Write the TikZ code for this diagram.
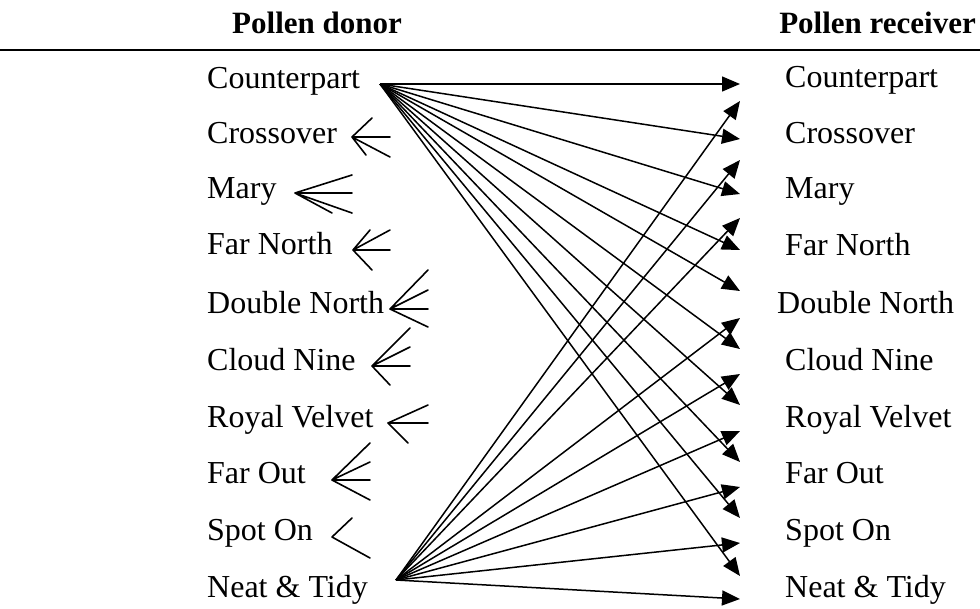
\documentclass[tikz,border=0pt]{standalone}
\usepackage{fontspec}
\setmainfont{Liberation Serif}
\usetikzlibrary{arrows.meta}
\begin{document}
\begin{tikzpicture}[x=1pt,y=-1pt,
  lbl/.style={anchor=base west,inner sep=0pt,font=\fontsize{32}{36}\selectfont},
  hdr/.style={inner sep=0pt,font=\fontsize{31}{36}\selectfont\bfseries},
  link/.style={line width=1.5pt,-{Triangle[length=18pt,width=15pt]}},
  fan/.style={line width=1.6pt,line cap=round}]
\useasboundingbox (0,0) rectangle (980,608);
% header
\node[hdr,anchor=base west] (hd) at (232,33) {Pollen donor};
\node[hdr,anchor=base east] (hr) at (976,33) {Pollen receiver};
\coordinate (rl) at (0,50);
\coordinate (rr) at (980,50);
\draw[line width=2pt] (rl) -- (rr);
% donors
\node[lbl] (d1) at (207,88) {Counterpart};
\node[lbl] (d2) at (207,143) {Crossover};
\node[lbl] (d3) at (207,198) {Mary};
\node[lbl] (d4) at (207,254) {Far North};
\node[lbl] (d5) at (207,313) {Double North};
\node[lbl] (d6) at (207,370) {Cloud Nine};
\node[lbl] (d7) at (207,427) {Royal Velvet};
\node[lbl] (d8) at (207,483) {Far Out};
\node[lbl] (d9) at (207,540) {Spot On};
\node[lbl] (d10) at (207,597) {Neat \& Tidy};
% receivers
\node[lbl] (r1) at (785,87) {Counterpart};
\node[lbl] (r2) at (785,143) {Crossover};
\node[lbl] (r3) at (785,198) {Mary};
\node[lbl] (r4) at (785,255) {Far North};
\node[lbl] (r5) at (777,313) {Double North};
\node[lbl] (r6) at (785,370) {Cloud Nine};
\node[lbl] (r7) at (785,427) {Royal Velvet};
\node[lbl] (r8) at (785,483) {Far Out};
\node[lbl] (r9) at (785,540) {Spot On};
\node[lbl] (r10) at (785,597) {Neat \& Tidy};
% sources
\coordinate (sa) at (380,84);
\coordinate (sb) at (396,580);
% tips from Counterpart
\foreach \i/\y in {1/84,2/139,3/194,4/250,5/291,6/349,7/405,8/462,9/518,10/576}
  \coordinate (ta\i) at (740,\y);
% tips from Neat & Tidy
\foreach \i/\y in {1/101,2/160,3/218,5/318,6/374,7/431,8/487,9/543,10/599}
  \coordinate (tb\i) at (740,\y);
\foreach \i in {1,...,10} \draw[link] (sa) -- (ta\i);
\foreach \i in {1,2,3,5,6,7,8,9,10} \draw[link] (sb) -- (tb\i);
% fans
\coordinate (v2) at (352,137);
\draw[fan] (v2) -- (372,118) (v2) -- (390,137) (v2) -- (366,155) (v2) -- (390,157);
\coordinate (v3) at (295,193);
\draw[fan] (v3) -- (352,175) (v3) -- (352,193) (v3) -- (332,213) (v3) -- (352,213);
\coordinate (v4) at (353,250);
\draw[fan] (v4) -- (370,230) (v4) -- (390,230) (v4) -- (390,250) (v4) -- (372,270);
\coordinate (v5) at (390,309);
\draw[fan] (v5) -- (428,270) (v5) -- (428,290) (v5) -- (428,309) (v5) -- (428,327);
\coordinate (v6) at (372,366);
\draw[fan] (v6) -- (410,328) (v6) -- (410,347) (v6) -- (410,366) (v6) -- (390,385);
\coordinate (v7) at (388,423);
\draw[fan] (v7) -- (428,405) (v7) -- (428,423) (v7) -- (408,443);
\coordinate (v8) at (332,480);
\draw[fan] (v8) -- (370,443) (v8) -- (370,462) (v8) -- (370,480) (v8) -- (370,500);
\coordinate (v9) at (332,537);
\draw[fan] (v9) -- (352,518) (v9) -- (370,558);
\end{tikzpicture}
\end{document}
